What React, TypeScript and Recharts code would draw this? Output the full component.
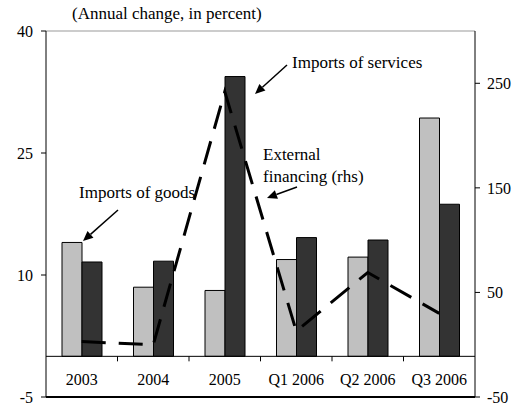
import { ComposedChart, Bar, Line, XAxis, YAxis, ReferenceLine } from 'recharts';

const categories = ['2003', '2004', '2005', 'Q1 2006', 'Q2 2006', 'Q3 2006'];
const importsOfGoods = [14, 8.5, 8.1, 11.9, 12.2, 29.3];
const importsOfServices = [11.6, 11.7, 34.4, 14.6, 14.3, 18.7];
const externalFinancing = [3, 0, 242, 13, 69, 30];
const leftTicks = [-5, 10, 25, 40];
const rightTicks = [-50, 50, 150, 250];

const data = categories.map((name, i) => ({
  name,
  goods: importsOfGoods[i],
  services: importsOfServices[i],
  financing: externalFinancing[i],
}));

const W = 514;
const H = 409;
const margin = { top: 31, right: 0, bottom: 11, left: 0 };
const xAxisH = 1;
const leftW = 46;
const rightW = 39;
const plotTop = margin.top;
const plotBottom = H - margin.bottom - xAxisH;
const plotW = W - leftW - rightW;
const band = plotW / categories.length;
const zeroY = plotTop + ((40 - 0) / 45) * (plotBottom - plotTop);

const font = '"Liberation Serif", "Times New Roman", serif';

function CategoryTick(props: any) {
  const { x, payload, index } = props;
  return (
    <g>
      <text
        x={x}
        y={zeroY + 29}
        textAnchor="middle"
        fontFamily={font}
        fontSize={16}
        fill="#000"
      >
        {payload.value}
      </text>
      {index > 0 && (
        <line x1={x - band / 2} x2={x - band / 2} y1={zeroY} y2={zeroY + 5} stroke="#000" />
      )}
    </g>
  );
}

function Arrow({ x1, y1, x2, y2 }: { x1: number; y1: number; x2: number; y2: number }) {
  const a = Math.atan2(y2 - y1, x2 - x1);
  const len = 10;
  const wd = 4.5;
  const bx = x2 - len * Math.cos(a);
  const by = y2 - len * Math.sin(a);
  const px = -Math.sin(a) * wd;
  const py = Math.cos(a) * wd;
  return (
    <g>
      <line x1={x1} y1={y1} x2={bx} y2={by} stroke="#000" strokeWidth={1.5} />
      <polygon points={`${x2},${y2} ${bx + px},${by + py} ${bx - px},${by - py}`} fill="#000" />
    </g>
  );
}

export default function App() {
  return (
    <div style={{ position: 'absolute', left: 0, top: 0, width: W, height: H, background: '#fff' }}>
      <ComposedChart width={W} height={H} data={data} margin={margin} barGap={0} barSize={20}>
        <XAxis
          dataKey="name"
          height={xAxisH}
          axisLine={{ stroke: '#000' }}
          tickLine={false}
          tick={(p: any) => <CategoryTick {...p} />}
          interval={0}
        />
        <YAxis
          yAxisId="left"
          orientation="left"
          width={leftW}
          domain={[-5, 40]}
          ticks={leftTicks}
          interval={0}
          axisLine={{ stroke: '#000' }}
          tickLine={{ stroke: '#000' }}
          tickSize={5}
          tickMargin={8}
          tick={{ fontFamily: font, fontSize: 16, fill: '#000' }}
        />
        <YAxis
          yAxisId="right"
          orientation="right"
          width={rightW}
          domain={[-50, 300]}
          ticks={rightTicks}
          interval={0}
          axisLine={{ stroke: '#000' }}
          tickLine={{ stroke: '#000' }}
          tickSize={5}
          tickMargin={7}
          tick={{ fontFamily: font, fontSize: 16, fill: '#000', textAnchor: 'start' }}
        />
        <ReferenceLine yAxisId="left" y={40} stroke="#999" />
        <Bar yAxisId="left" dataKey="goods" fill="#C0C0C0" stroke="#000" strokeWidth={1} isAnimationActive={false} />
        <Bar yAxisId="left" dataKey="services" fill="#333333" stroke="#000" strokeWidth={1} isAnimationActive={false} />
        <ReferenceLine yAxisId="left" y={0} stroke="#000" />
        <Line
          yAxisId="right"
          type="linear"
          dataKey="financing"
          stroke="#000"
          strokeWidth={3}
          strokeDasharray="24 13"
          dot={false}
          activeDot={false}
          isAnimationActive={false}
        />
      </ComposedChart>
      <div
        style={{
          position: 'absolute',
          left: leftW,
          top: plotBottom - 1,
          width: plotW,
          height: 2,
          background: '#000',
        }}
      />
      <svg
        width={W}
        height={H}
        style={{ position: 'absolute', left: 0, top: 0, pointerEvents: 'none' }}
        fontFamily={font}
        fontSize={17}
      >
        <text x={72} y={19} fill="#000">(Annual change, in percent)</text>
        <text x={292} y={68} fill="#000">Imports of services</text>
        <text x={263} y={160} fill="#000">External</text>
        <text x={263} y={182} fill="#000">financing (rhs)</text>
        <text x={79} y={198} fill="#000">Imports of goods</text>
        <Arrow x1={287} y1={65} x2={255} y2={94} />
        <Arrow x1={297} y1={187} x2={267} y2={198} />
        <Arrow x1={118} y1={210} x2={83} y2={241} />
      </svg>
    </div>
  );
}
